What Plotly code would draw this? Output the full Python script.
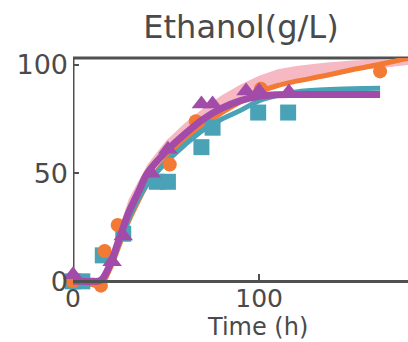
import plotly.graph_objects as go

# ---- data ----
orange_t = [0, 15, 17, 24, 52, 66, 101, 165]
orange_y = [0, -2, 14, 26, 54, 74, 89, 97]
teal_t = [0, 5, 16, 27, 45, 51, 69, 75, 99.5, 115.6]
teal_y = [0, 0, 12, 22, 46, 46, 62, 71, 78, 78]
purple_t = [0, 21, 27, 42, 51, 69, 75, 93, 100, 116]
purple_y = [3, 9, 21, 50, 61, 82, 82, 88, 88, 87.5]

fit_t = [0, 5, 10, 15, 20, 25, 30, 35, 40, 50, 60, 70, 80, 90, 100, 110, 120, 135, 150, 165, 180, 200]
orange_fit = [0, -0.5, -1.5, -1.5, 6, 17, 28, 37, 45, 56, 65, 72, 78, 83, 87.5, 90.5, 92.5, 95, 97.8, 100.3, 103, 106]
teal_fit = [0, 0, 0, 0.5, 7, 18, 29, 38, 45, 55, 63, 70, 75, 79, 83.5, 86, 87.5, 88.5, 89, 89.2, None, None]
purple_fit = [0, 0, 0, 0.5, 8, 20, 32, 41, 50, 60, 68, 75, 80, 83.5, 85.5, 86.2, 86.3, 86.3, 86.3, 86.3, None, None]

band_t = [20, 30, 40, 50, 60, 70, 80, 90, 100, 110, 120, 135, 150, 165, 180]
band_lo = [8, 32, 48, 59, 67, 74, 80, 85, 88, 91, 93, 96, 97.5, 98.5, 100]
band_hi = [12, 38, 54, 65, 73, 80, 86, 91, 95, 98, 99.5, 101, 102, 102.5, 103]

x_ticks = [0, 100, 200]
y_ticks = [0, 50, 100]
title_text = "Ethanol(g/L)"
x_title = "Time (h)"

ORANGE = "#F27A34"
TEAL = "#4AA2B6"
PURPLE = "#A24BA8"
PINK = "#F6B9C4"
AX = "#505050"
TXT = "#4a4a4a"
FONT = "DejaVu Sans"

YMIN, YMAX = -4, 103.2
XMIN, XMAX = 0, 180
MT, MB, ML = 58, 52, 73
PLOT_H = 342 - MT - MB
PLOT_W = 408 - ML

fig = go.Figure()

# pink band
fig.add_trace(go.Scatter(x=band_t, y=band_hi, mode="lines", line=dict(width=0, color=PINK),
                         showlegend=False, hoverinfo="skip"))
fig.add_trace(go.Scatter(x=band_t, y=band_lo, mode="lines", line=dict(width=0, color=PINK),
                         fill="tonexty", fillcolor=PINK, showlegend=False, hoverinfo="skip"))

# fitted lines
fig.add_trace(go.Scatter(x=fit_t, y=orange_fit, mode="lines", line=dict(color=ORANGE, width=5, shape="spline"),
                         showlegend=False))
fig.add_trace(go.Scatter(x=fit_t, y=teal_fit, mode="lines", line=dict(color=TEAL, width=5, shape="spline"),
                         showlegend=False))

# markers
fig.add_trace(go.Scatter(x=teal_t, y=teal_y, mode="markers", cliponaxis=False,
                         marker=dict(symbol="square", size=16, color=TEAL), showlegend=False))
fig.add_trace(go.Scatter(x=orange_t, y=orange_y, mode="markers", cliponaxis=False,
                         marker=dict(symbol="circle", size=14, color=ORANGE), showlegend=False))
fig.add_trace(go.Scatter(x=fit_t, y=purple_fit, mode="lines", line=dict(color=PURPLE, width=7, shape="spline"),
                         showlegend=False))
fig.add_trace(go.Scatter(x=purple_t, y=purple_y, mode="markers", cliponaxis=False,
                         marker=dict(symbol="triangle-up", size=17, color=PURPLE), showlegend=False))

xpos = (0 - YMIN) / (YMAX - YMIN)

fig.update_layout(
    width=408, height=342,
    margin=dict(l=ML, r=0, t=MT, b=MB),
    paper_bgcolor="white", plot_bgcolor="white",
    font=dict(family=FONT, color=TXT),
    title=dict(text=title_text, x=241 / 408, xanchor="center", y=1 - 27 / 342, yanchor="middle",
               font=dict(family=FONT, size=32, color=TXT)),
    xaxis=dict(range=[XMIN, XMAX], tickvals=x_ticks, ticks="inside", ticklen=6, tickwidth=2, tickcolor=AX,
               showline=True, linecolor=AX, linewidth=3, showgrid=False, zeroline=False,
               anchor="free", position=xpos, ticklabelstandoff=-6,
               tickfont=dict(family=FONT, size=25, color=TXT)),
    yaxis=dict(range=[YMIN, YMAX], tickvals=y_ticks, ticks="inside", ticklen=6, tickwidth=2, tickcolor=AX,
               showline=False, showgrid=False, zeroline=False, ticklabelstandoff=4,
               tickfont=dict(family=FONT, size=27, color=TXT)),
    shapes=[
        dict(type="line", xref="x", yref="y", x0=0, x1=0, y0=0, y1=YMAX, line=dict(color=AX, width=3), layer="below"),
        dict(type="line", xref="paper", yref="paper", x0=0, x1=1, y0=1, y1=1, line=dict(color=AX, width=3), layer="below"),
    ],
    annotations=[
        dict(text=x_title, xref="paper", yref="paper", x=(257 - ML) / PLOT_W, xanchor="center",
             y=-(MB + 1) / PLOT_H, yanchor="bottom", showarrow=False,
             font=dict(family=FONT, size=24, color=TXT)),
    ],
)

fig.write_html("out.html")
